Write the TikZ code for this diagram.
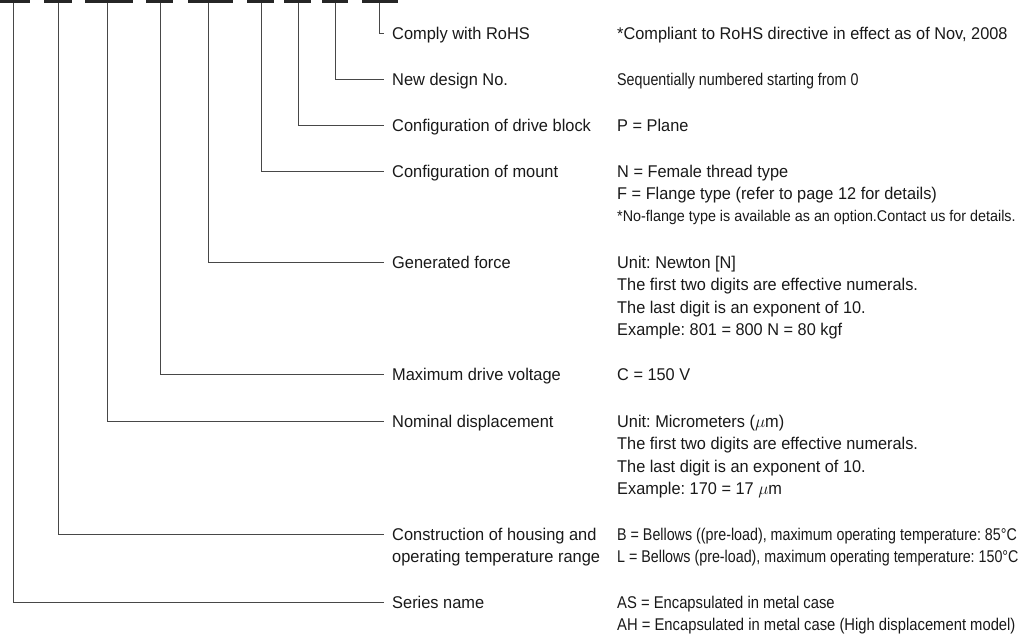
\documentclass[tikz,border=0pt]{standalone}
\usepackage{fontspec}
\setmainfont{Liberation Sans}
\newfontfamily\labfont{Liberation Sans}[FakeStretch=0.965]
\newfontfamily\descfont{Liberation Sans}[FakeStretch=0.96]
\newfontfamily\narrowfont{Liberation Sans}[FakeStretch=0.84]
\newfontfamily\seriesfont{Liberation Sans}[FakeStretch=0.87]
\newfontfamily\smallfont{Liberation Sans}[FakeStretch=0.925]
\frenchspacing
\begin{document}
\begin{tikzpicture}[x=1pt,y=-1pt,
  bar/.style={fill=black!85, draw=none, inner sep=0, minimum height=2.7pt, anchor=north west},
  conn/.style={draw=black!72, line width=0.9pt},
  lab/.style={anchor=west, inner xsep=8pt, inner ysep=0pt, text height=12.2pt, text depth=0pt,
    font=\labfont\fontsize{17}{22}\selectfont, text=black!90},
  desc/.style={anchor=west, inner sep=0pt, text height=12.2pt, text depth=0pt,
    font=\descfont\fontsize{17}{22}\selectfont, text=black!90},
  descn/.style={desc, font=\narrowfont\fontsize{17}{22}\selectfont},
  descser/.style={desc, font=\seriesfont\fontsize{17}{22}\selectfont},
  descs/.style={desc, font=\smallfont\fontsize{15.5}{20}\selectfont}]
\path[use as bounding box] (0,0) rectangle (1021,634);
% code bars
\node[bar, minimum width=30pt] (b1) at (0,0) {};
\node[bar, minimum width=28pt] (b2) at (44,0) {};
\node[bar, minimum width=48pt] (b3) at (85,0) {};
\node[bar, minimum width=27pt] (b4) at (146,0) {};
\node[bar, minimum width=45pt] (b5) at (188,0) {};
\node[bar, minimum width=27pt] (b6) at (247,0) {};
\node[bar, minimum width=27pt] (b7) at (284,0) {};
\node[bar, minimum width=26pt] (b8) at (322,0) {};
\node[bar, minimum width=36pt] (b9) at (362,0) {};
% connector start points below bars
\coordinate (v1) at (13,2.7);
\coordinate (v2) at (58,2.7);
\coordinate (v3) at (107,2.7);
\coordinate (v4) at (160,2.7);
\coordinate (v5) at (208,2.7);
\coordinate (v6) at (261,2.7);
\coordinate (v7) at (298,2.7);
\coordinate (v8) at (335,2.7);
\coordinate (v9) at (379,2.7);
% labels
\node[lab] (l9) at (384,33) {Comply with RoHS};
\node[lab] (l8) at (384,79) {New design No.};
\node[lab] (l7) at (384,125) {Configuration of drive block};
\node[lab] (l6) at (384,171) {Configuration of mount};
\node[lab] (l5) at (384,262) {Generated force};
\node[lab] (l4) at (384,374) {Maximum drive voltage};
\node[lab] (l3) at (384,421) {Nominal displacement};
\node[lab] (l2) at (384,534) {Construction of housing and};
\node[lab] (l2b) at (384,556.5) {operating temperature range};
\node[lab] (l1) at (384,602) {Series name};
% connectors
\draw[conn] (v9) |- (l9.west);
\draw[conn] (v8) |- (l8.west);
\draw[conn] (v7) |- (l7.west);
\draw[conn] (v6) |- (l6.west);
\draw[conn] (v5) |- (l5.west);
\draw[conn] (v4) |- (l4.west);
\draw[conn] (v3) |- (l3.west);
\draw[conn] (v2) |- (l2.west);
\draw[conn] (v1) |- (l1.west);
% descriptions
\node[desc] (d9) at (617,33) {*Compliant to RoHS directive in effect as of Nov, 2008};
\node[descn] (d8) at (617,79) {Sequentially numbered starting from 0};
\node[desc] (d7) at (617,125) {P = Plane};
\node[desc] (d6a) at (617,171) {N = Female thread type};
\node[desc] (d6b) at (617,193.5) {F = Flange type (refer to page 12 for details)};
\node[descs] (d6c) at (617,215) {*No-flange type is available as an option.Contact us for details.};
\node[desc] (d5a) at (617,262) {Unit: Newton [N]};
\node[desc] (d5b) at (617,284.5) {The first two digits are effective numerals.};
\node[desc] (d5c) at (617,307) {The last digit is an exponent of 10.};
\node[desc] (d5d) at (617,329.5) {Example: 801 = 800 N = 80 kgf};
\node[desc] (d4) at (617,374) {C = 150 V};
\node[desc] (d3a) at (617,421) {Unit: Micrometers ($\mu$m)};
\node[desc] (d3b) at (617,443.5) {The first two digits are effective numerals.};
\node[desc] (d3c) at (617,466) {The last digit is an exponent of 10.};
\node[desc] (d3d) at (617,488.5) {Example: 170 = 17 $\mu$m};
\node[descn] (d2a) at (617,534) {B = Bellows ((pre-load), maximum operating temperature: 85°C};
\node[descn] (d2b) at (617,556.5) {L = Bellows (pre-load), maximum operating temperature: 150°C};
\node[descser] (d1a) at (617,602) {AS = Encapsulated in metal case};
\node[descser] (d1b) at (617,624.5) {AH = Encapsulated in metal case (High displacement model)};
\end{tikzpicture}
\end{document}
